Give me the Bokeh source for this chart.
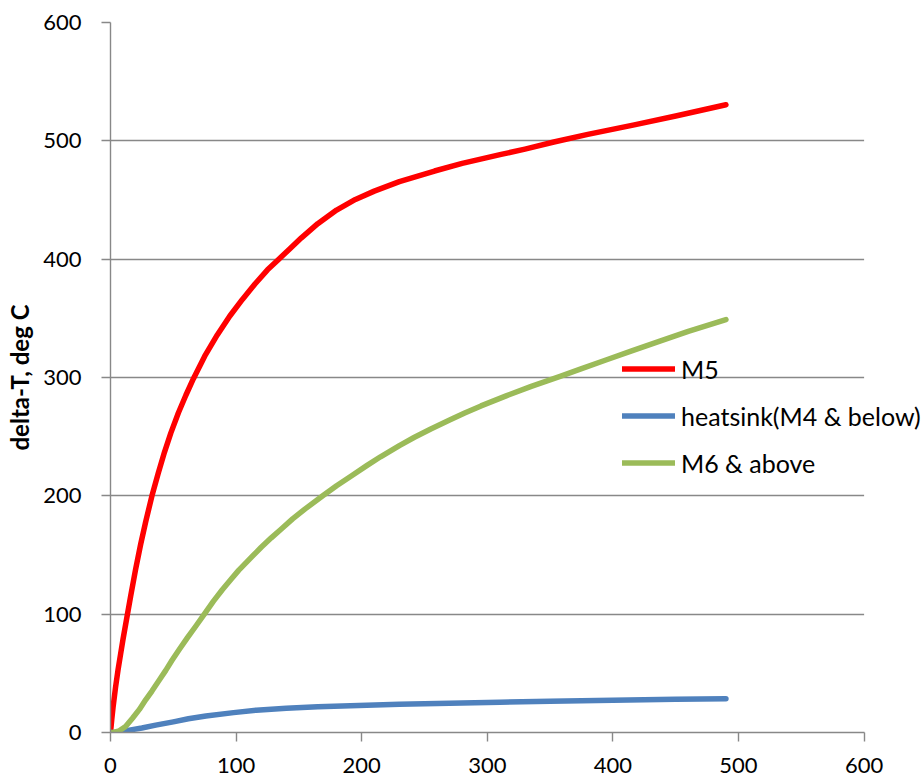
from bokeh.plotting import figure
from bokeh.models import Range1d, FixedTicker, Legend, LegendItem, BoxAnnotation
from bokeh.embed import file_html
from bokeh.resources import INLINE

# ---- data ----
m5_x = [0, 1, 2, 4, 6, 8, 10, 13, 16, 20, 24, 28, 33, 38, 43, 48, 54, 60, 66, 75, 85, 95,
        105, 115, 125, 134, 142, 152, 165, 180, 195, 210, 230, 258, 280, 311, 330, 353, 380,
        417, 450, 490]
m5_y = [0, 11, 21, 38, 53, 66, 79, 97, 115, 138, 159, 178, 200, 219, 237, 253, 270, 285, 299,
        318, 336, 352, 366, 379, 391, 400, 408, 418, 430, 441.5, 450.5, 457.5, 465.5, 474.5,
        481, 488.5, 493, 499, 505.5, 513.5, 521, 530.5]

hs_x = [0, 5, 15, 25, 36, 50, 62, 76, 98, 116, 140, 165, 191, 230, 270, 310, 350, 400, 450, 490]
hs_y = [0, 0.3, 2, 3.8, 6.2, 9, 11.6, 14, 16.8, 18.9, 20.5, 21.7, 22.6, 23.8, 24.8, 25.6, 26.4,
        27.2, 28, 28.6]

m6_x = [0, 3, 7, 12, 17.5, 23, 28, 33, 39, 44, 49, 55, 61, 68, 75, 82, 89, 96, 102, 108, 113,
        120, 128, 136, 145, 155, 169, 180, 192, 204, 215, 230, 242, 255, 270, 282, 295, 315,
        335, 358, 374, 395, 415, 438, 460, 490]
m6_y = [0, 0.3, 1.4, 5, 12, 19.5, 27.6, 35, 44.5, 52.5, 61, 70.5, 79.7, 90, 100.5, 111, 120.6,
        129.5, 137, 143.5, 149, 156.5, 164.5, 172, 180.5, 189, 200, 208.5, 217, 225.5, 233,
        242.5, 249.5, 256.5, 264, 270, 276, 284.5, 292.5, 301, 307, 315, 322.5, 331, 339, 349]

series_names = ["M5", "heatsink(M4 & below)", "M6 & above"]
series_colors = ["#FF0000", "#4F81BD", "#9BBB59"]
ticks = [0, 100, 200, 300, 400, 500, 600]
y_label = "delta-T, deg C"

FONT = "Lato"
GRAY = "#888888"
X_MAX = 600
X_VIEW_END = 646.5  # extra room on the right so the legend can overhang the last tick

p = figure(frame_width=812, frame_height=710,
           min_border_left=110, min_border_right=0, min_border_top=22, min_border_bottom=45,
           x_range=Range1d(0, X_VIEW_END), y_range=Range1d(0, 600),
           output_backend="svg", toolbar_location=None)
p.outline_line_color = None
p.background_fill_color = "white"
p.border_fill_color = "white"

p.xgrid.visible = False
p.ygrid.ticker = FixedTicker(ticks=ticks)
p.ygrid.grid_line_color = GRAY
p.ygrid.grid_line_width = 1.4

for ax in (p.xaxis[0], p.yaxis[0]):
    ax.ticker = FixedTicker(ticks=ticks)
    ax.axis_line_color = GRAY
    ax.axis_line_width = 1.4
    ax.major_tick_line_color = GRAY
    ax.major_tick_line_width = 1.4
    ax.major_tick_out = 9
    ax.major_tick_in = 0
    ax.minor_tick_line_color = None
    ax.major_label_text_font = FONT
    ax.major_label_text_font_size = "22px"
    ax.major_label_text_color = "black"

p.xaxis.bounds = (0, X_MAX)
p.xaxis.major_label_standoff = 16
p.yaxis.major_label_standoff = 20
p.yaxis.axis_label = y_label
p.yaxis.axis_label_text_font = FONT
p.yaxis.axis_label_text_font_style = "bold"
p.yaxis.axis_label_text_font_size = "24px"
p.yaxis.axis_label_standoff = 6
p.yaxis.axis_label_text_color = "black"

# hide the grid lines beyond the last x tick (plot area ends at 600)
cover = BoxAnnotation(left=X_MAX, fill_color="white", fill_alpha=1.0,
                      line_color=None, line_alpha=0, level="underlay")
p.add_layout(cover)

renderers = []
for xs, ys, c in zip([m5_x, hs_x, m6_x], [m5_y, hs_y, m6_y], series_colors):
    r = p.line(xs, ys, line_color=c, line_width=5.5, line_cap="round", line_join="round")
    renderers.append(r)

legend = Legend(items=[LegendItem(label=n, renderers=[r]) for n, r in zip(series_names, renderers)],
                location=(512, 253), orientation="vertical",
                glyph_width=53, glyph_height=33, label_height=33, label_standoff=6,
                spacing=14, padding=0, margin=0,
                border_line_color=None, background_fill_alpha=0,
                label_text_font=FONT, label_text_font_size="25px", label_text_color="black")
p.add_layout(legend)

open("out.html", "w").write(file_html(p, INLINE))
